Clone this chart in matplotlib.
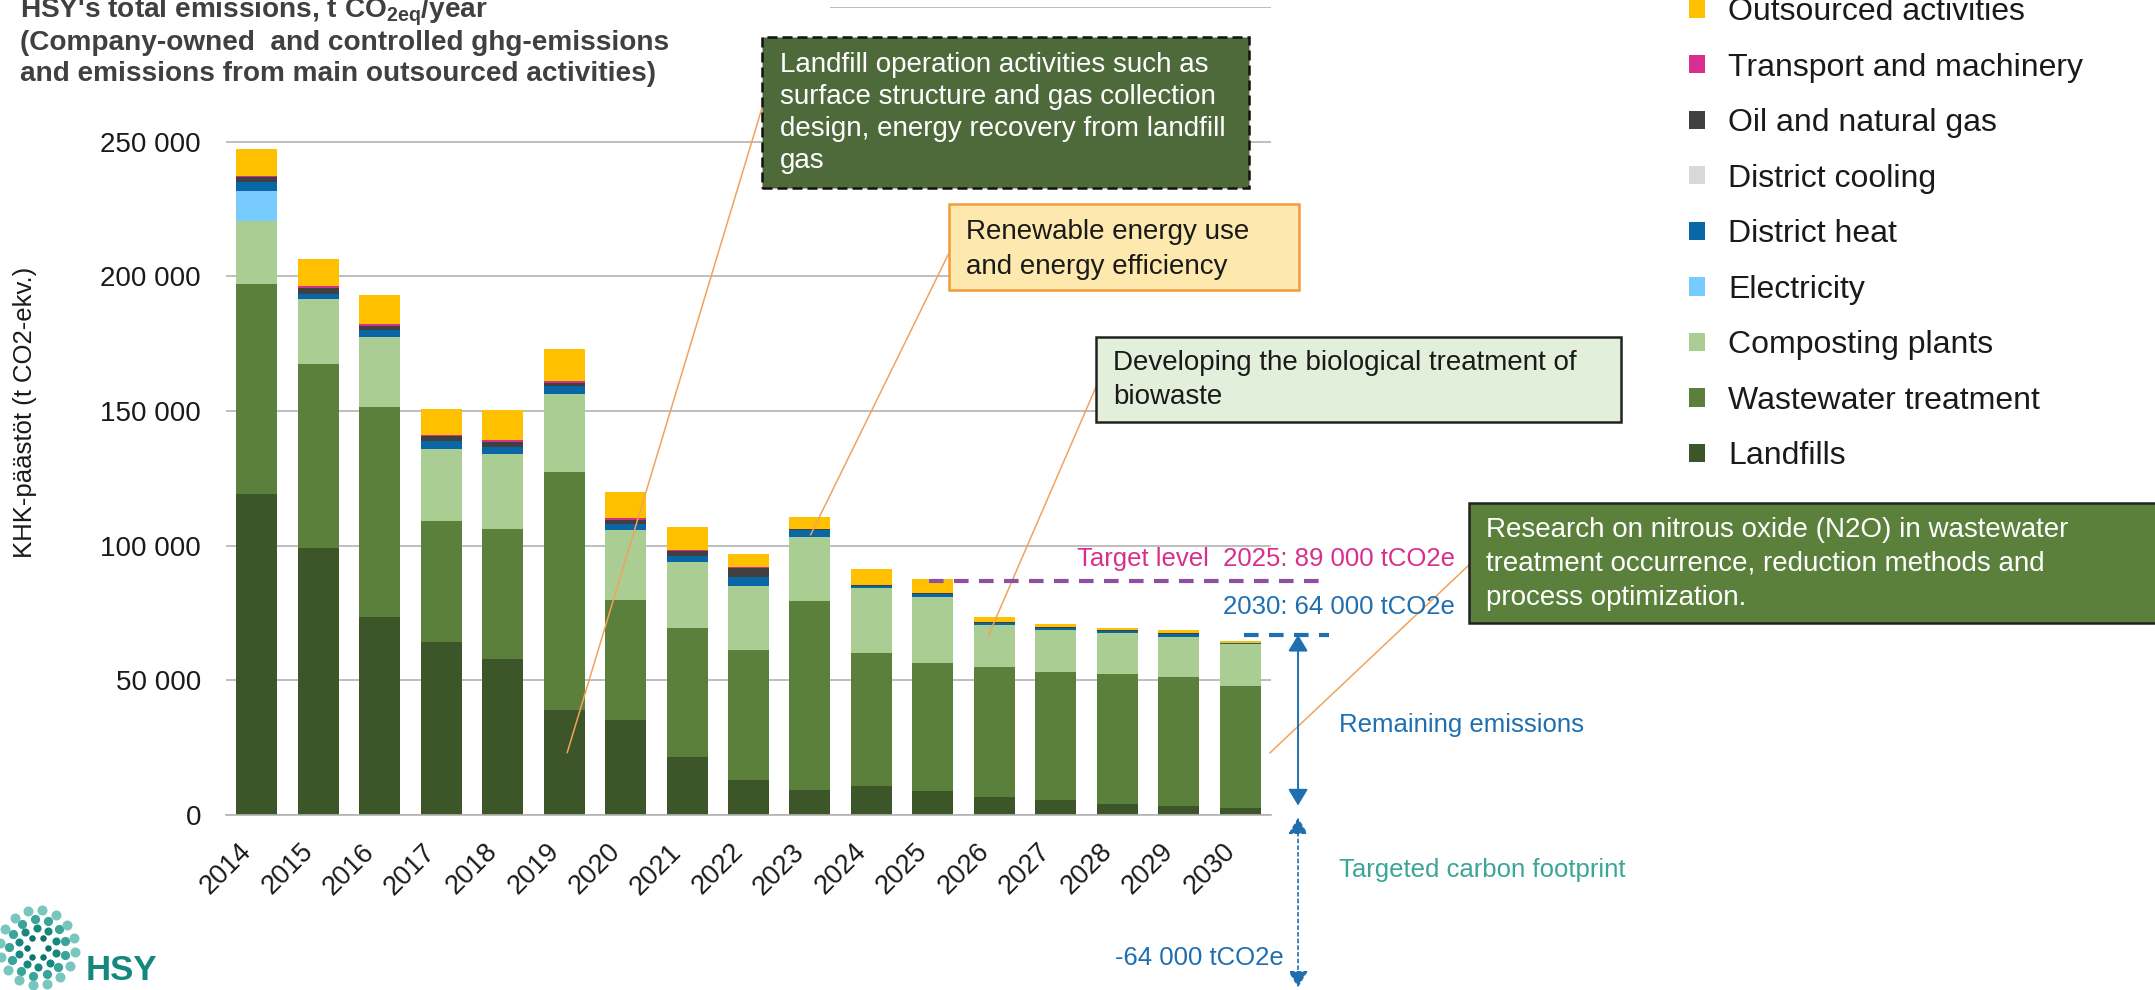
import matplotlib
matplotlib.use('Agg')
import matplotlib.pyplot as plt
import numpy as np
from matplotlib.patches import Rectangle

plt.rcParams['font.family'] = ['Liberation Sans', 'DejaVu Sans']
plt.rcParams['mathtext.fontset'] = 'custom'
plt.rcParams['mathtext.rm'] = 'Liberation Sans'
plt.rcParams['mathtext.bf'] = 'Liberation Sans:bold'

# data (t CO2e per year)
years = [str(y) for y in range(2014, 2031)]
landfills = [119300, 99100, 73400, 64300, 58100, 38900, 35100, 21500, 13100,
             9300, 10900, 9000, 6800, 5600, 4200, 3500, 2500]
wastewater = [77800, 68300, 78200, 44800, 48100, 88400, 44600, 47800, 48200,
              70100, 49100, 47600, 48100, 47600, 48200, 47800, 45400]
composting = [23400, 24000, 25900, 26900, 27800, 29100, 26200, 24600, 23900,
              23900, 24200, 24300, 15500, 15600, 15100, 14900, 15500]
electricity = [11300, 0, 0, 0, 0, 0, 0, 0, 0, 0, 0, 0, 0, 0, 0, 0, 0]
district_heat = [3300, 2200, 2500, 2700, 2500, 2700, 2200, 2200, 3000,
                 2500, 900, 1200, 900, 600, 1000, 900, 300]
district_cooling = [0, 0, 0, 0, 0, 0, 0, 0, 0, 0, 0, 0, 0, 0, 0, 0, 0]
oil_gas = [1700, 2200, 1700, 1900, 2000, 1400, 1500, 2000, 3600,
           400, 200, 400, 400, 300, 200, 400, 0]
transport = [300, 500, 700, 600, 600, 600, 500, 200, 100, 0, 0, 0, 0, 0, 0, 0, 0]
outsourced = [10300, 10000, 10500, 9600, 11200, 11800, 9700, 8800, 5100,
              4400, 6100, 5200, 1900, 1200, 900, 1100, 1000]

target_2025_line = 86900
target_2030_line = 66900
footprint_2030 = -64000

series = [
    ('Landfills', landfills, '#3c5529'),
    ('Wastewater treatment', wastewater, '#5a803b'),
    ('Composting plants', composting, '#a9cd93'),
    ('Electricity', electricity, '#78cbff'),
    ('District heat', district_heat, '#0b66a6'),
    ('District cooling', district_cooling, '#d9d9d9'),
    ('Oil and natural gas', oil_gas, '#404040'),
    ('Transport and machinery', transport, '#d62f8c'),
    ('Outsourced activities', outsourced, '#ffc000'),
]

title_lines = [r"HSY's total emissions, t CO$_\mathbf{2eq}$/year",
               "(Company-owned  and controlled ghg-emissions",
               "and emissions from main outsourced activities)"]
landfill_note = ["Landfill operation activities such as",
                 "surface structure and gas collection",
                 "design, energy recovery from landfill",
                 "gas"]
energy_note = ["Renewable energy use", "and energy efficiency"]
bio_note = ["Developing the biological treatment of", "biowaste"]
n2o_note = ["Research on nitrous oxide (N2O) in wastewater",
            "treatment occurrence, reduction methods and",
            "process optimization."]

W, H = 2155, 990


def fx(px):
    return px / W


def fy(py):
    return 1 - py / H


fig = plt.figure(figsize=(W / 100, H / 100), dpi=100)
ax = fig.add_axes([fx(226), (H - 815) / H, (1271 - 226) / W, (815 - 7) / H])

x = np.arange(len(years))
bottom = np.zeros(len(years))
for name, vals, col in series:
    ax.bar(x, vals, 0.667, bottom=bottom, color=col, label=name, zorder=2)
    bottom += np.array(vals)

ax.set_xlim(-0.5, 16.5)
ax.set_ylim(0, 300000)
ticks = np.arange(0, 300001, 50000)
ax.set_yticks(ticks)
ax.set_yticklabels([f"{t:,}".replace(',', ' ') if t < 300000 else '' for t in ticks])
ax.set_xticks(x)
ax.set_xticklabels(years, rotation=45, ha='right', va='top')
ax.tick_params(axis='y', length=0, pad=18, labelsize=20, labelcolor='#1a1a1a')
ax.tick_params(axis='x', length=0, pad=17, labelsize=19.5, labelcolor='#1a1a1a')
ax.grid(axis='y', color='#b3b3b3', lw=1.2)
ax.set_axisbelow(True)
for s in ['top', 'right', 'left']:
    ax.spines[s].set_visible(False)
ax.spines['bottom'].set_color('#b3b3b3')
ax.spines['bottom'].set_linewidth(1.2)

# hide the top gridline behind the title, as in the original
fig.add_artist(Rectangle((0, fy(22)), fx(830), 22 / H, transform=fig.transFigure,
                         facecolor='white', edgecolor='none', zorder=1))

for i, line in enumerate(title_lines):
    fig.text(fx(20), fy(12 + 31 * i), line, fontsize=20.2, fontweight='bold',
             color='#404040', va='center', ha='left')

fig.text(fx(25), fy(412), 'KHK-päästöt (t CO2-ekv.)', rotation=90,
         fontsize=18.5, color='#1a1a1a', va='center', ha='center')

# legend, top entry first
h, l = ax.get_legend_handles_labels()
fig.legend(h[::-1], l[::-1], loc='upper left', bbox_to_anchor=(fx(1689), fy(-3)),
           frameon=False, fontsize=23, handlelength=0.5, handleheight=0.5,
           handletextpad=0.72, labelspacing=0.8, borderpad=0, borderaxespad=0,
           labelcolor='#1a1a1a')

# annotation boxes
def note_box(x0, y0, x1, y1, face, edge, ls, lines, tx, ty0, dy, tcol):
    fig.add_artist(Rectangle((fx(x0), fy(y1)), (x1 - x0) / W, (y1 - y0) / H,
                             transform=fig.transFigure, facecolor=face,
                             edgecolor=edge, lw=1.8, ls=ls, zorder=4))
    for i, t in enumerate(lines):
        fig.text(fx(tx), fy(ty0 + dy * i), t, fontsize=20, color=tcol,
                 va='center', ha='left', zorder=5)


note_box(762, 37, 1249, 188, '#4e6a3a', '#111111', (0, (4, 2)), landfill_note,
         780, 65, 32, 'white')
note_box(949, 204, 1299, 290, '#fde9ad', '#f39a3c', '-', energy_note,
         966, 232, 35, '#1a1a1a')
note_box(1096, 337, 1621, 422, '#e2efda', '#222222', '-', bio_note,
         1113, 363, 34, '#1a1a1a')
note_box(1469, 503, 2170, 623, '#5a803b', '#222222', '-', n2o_note,
         1486, 530, 34, 'white')

# leader lines from boxes to bars
leaders = [((5.05, 23100), (762, 108)),
           ((9.01, 104000), (949, 253)),
           ((11.9, 66500), (1096, 387)),
           ((16.48, 23000), (1469, 565))]
for (dx, dyv), (px, py) in leaders:
    ax.annotate('', xy=(dx, dyv), xycoords='data', xytext=(fx(px), fy(py)),
                textcoords='figure fraction', annotation_clip=False,
                arrowprops=dict(arrowstyle='-', color='#f2a25c', lw=1.1,
                                shrinkA=0, shrinkB=0), zorder=3)

# target lines
ax.plot([10.94, 17.28], [target_2025_line] * 2, color='#8e4fa0', lw=3,
        dashes=(3.5, 2.5), clip_on=False, zorder=3)
ax.plot([16.06, 17.44], [target_2030_line] * 2, color='#1f6fb0', lw=3,
        dashes=(3.5, 2.5), clip_on=False, zorder=3)
fig.text(fx(1455), fy(559), 'Target level  2025: 89 000 tCO2e', fontsize=18.5,
         color='#d6308c', ha='right', va='center')
fig.text(fx(1455), fy(607), '2030: 64 000 tCO2e', fontsize=18.5,
         color='#1f6fb0', ha='right', va='center')

ax.annotate('', xy=(16.94, 3500), xytext=(16.94, target_2030_line),
            annotation_clip=False,
            arrowprops=dict(arrowstyle='<|-|>,head_length=0.5,head_width=0.3',
                            color='#1f6fb0', lw=1.4, mutation_scale=20,
                            shrinkA=0, shrinkB=0))
ax.annotate('', xy=(16.94, footprint_2030), xytext=(16.94, -1000),
            annotation_clip=False,
            arrowprops=dict(arrowstyle='<|-|>,head_length=0.5,head_width=0.3',
                            color='#1f6fb0', lw=1.2, ls=(0, (2, 2)),
                            mutation_scale=20, shrinkA=0, shrinkB=0))
fig.text(fx(1339), fy(725), 'Remaining emissions', fontsize=18.5,
         color='#1f6fb0', ha='left', va='center')
fig.text(fx(1339), fy(870), 'Targeted carbon footprint', fontsize=18.5,
         color='#3ba597', ha='left', va='center')
fig.text(fx(1284), fy(958), '-64 000 tCO2e', fontsize=18.5,
         color='#1f6fb0', ha='right', va='center')

# HSY logo
lax = fig.add_axes([fx(-5), 0, 85 / W, 85 / H])
lax.set_xlim(-1, 1)
lax.set_ylim(-1, 1)
lax.axis('off')
for k, (r, n, c, s) in enumerate([(0.25, 6, '#0d756c', 22), (0.46, 10, '#17887e', 34),
                                  (0.67, 13, '#3aa49a', 44), (0.88, 16, '#79c6bf', 52)]):
    a = np.linspace(0, 2 * np.pi, n, endpoint=False) + k * 0.35
    lax.scatter(r * np.cos(a), r * np.sin(a), s=s, color=c, lw=0)
fig.text(fx(86), fy(970), 'HSY', fontsize=25, fontweight='bold',
         color='#14877e', va='center', ha='left')

fig.savefig('out.png', dpi=100)
